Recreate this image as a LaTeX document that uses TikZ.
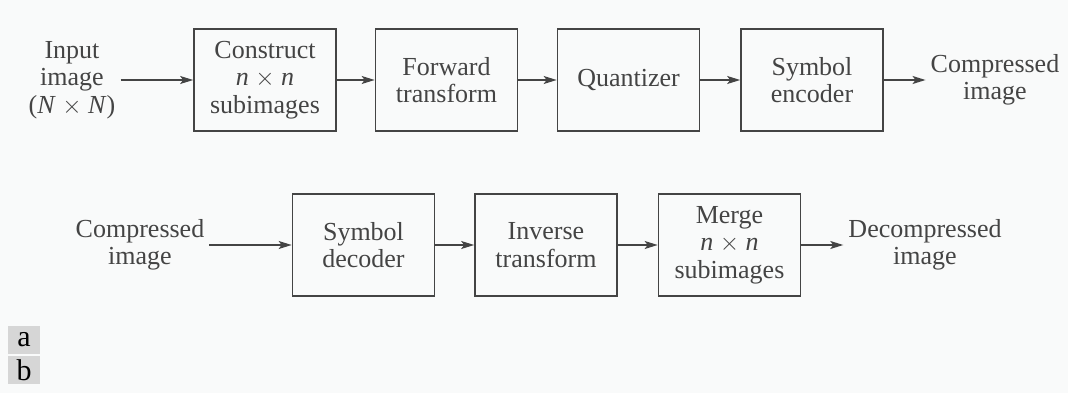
\documentclass[tikz,border=0pt]{standalone}
\usepackage{fontspec}
\setmainfont{Liberation Serif}
\usepackage{tikz}
\usetikzlibrary{arrows.meta, positioning}
\definecolor{paper}{RGB}{249,250,250}
\definecolor{ink}{RGB}{68,68,68}
\definecolor{tabgray}{RGB}{214,214,214}

\begin{document}
\begin{tikzpicture}[
  x=1pt, y=-1pt,
  every node/.style={font=\fontsize{26}{27.5}\selectfont, text=ink, align=center},
  block/.style={rectangle, draw=ink, line width=1.7pt, minimum width=142pt,
                minimum height=102pt, inner sep=0pt},
  lbl/.style={inner sep=5pt},
  tab/.style={fill=tabgray, minimum width=32pt, minimum height=28pt, inner sep=0pt,
              font=\fontsize{30}{30}\selectfont, text=black},
  arr/.style={-{Stealth[length=13pt, width=8pt, inset=3pt]}, draw=ink, line width=1.4pt},
]
  \fill[paper] (0,0) rectangle (1068,393);
  \useasboundingbox (0,0) rectangle (1068,393);

  % Encoder blocks
  \node[block] (cons) at (265,80) {Construct\\\textit{n} $\times$ \textit{n}\\subimages};
  \node[block] (fwd) at (446.5,80) {Forward\\transform};
  \node[block] (quant) at (628.5,80) {Quantizer};
  \node[block] (enc) at (812,80) {Symbol\\encoder};

  % Encoder input/output
  \node[lbl] (input) at (72,80) {Input\\image\\(\textit{N} $\times$ \textit{N})};
  \node[lbl] (cout) at (995,80) {Compressed\\image};

  % Decoder blocks
  \node[block] (dec) at (363.5,245) {Symbol\\decoder};
  \node[block] (inv) at (546,245) {Inverse\\transform};
  \node[block] (merge) at (729.5,245) {Merge\\\textit{n} $\times$ \textit{n}\\subimages};

  % Decoder input/output
  \node[lbl] (cin) at (140,245) {Compressed\\image};
  \node[lbl] (dout) at (925,245) {Decompressed\\image};

  % Panel tabs
  \node[tab] (taba) at (24,340) {a};
  \node[tab] (tabb) at (24,370) {b};

  % Arrows
  \draw[arr] (input) -- (cons);
  \draw[arr] (cons) -- (fwd);
  \draw[arr] (fwd) -- (quant);
  \draw[arr] (quant) -- (enc);
  \draw[arr] (enc) -- (cout);

  \draw[arr] (cin) -- (dec);
  \draw[arr] (dec) -- (inv);
  \draw[arr] (inv) -- (merge);
  \draw[arr] (merge) -- (dout);
\end{tikzpicture}
\end{document}
